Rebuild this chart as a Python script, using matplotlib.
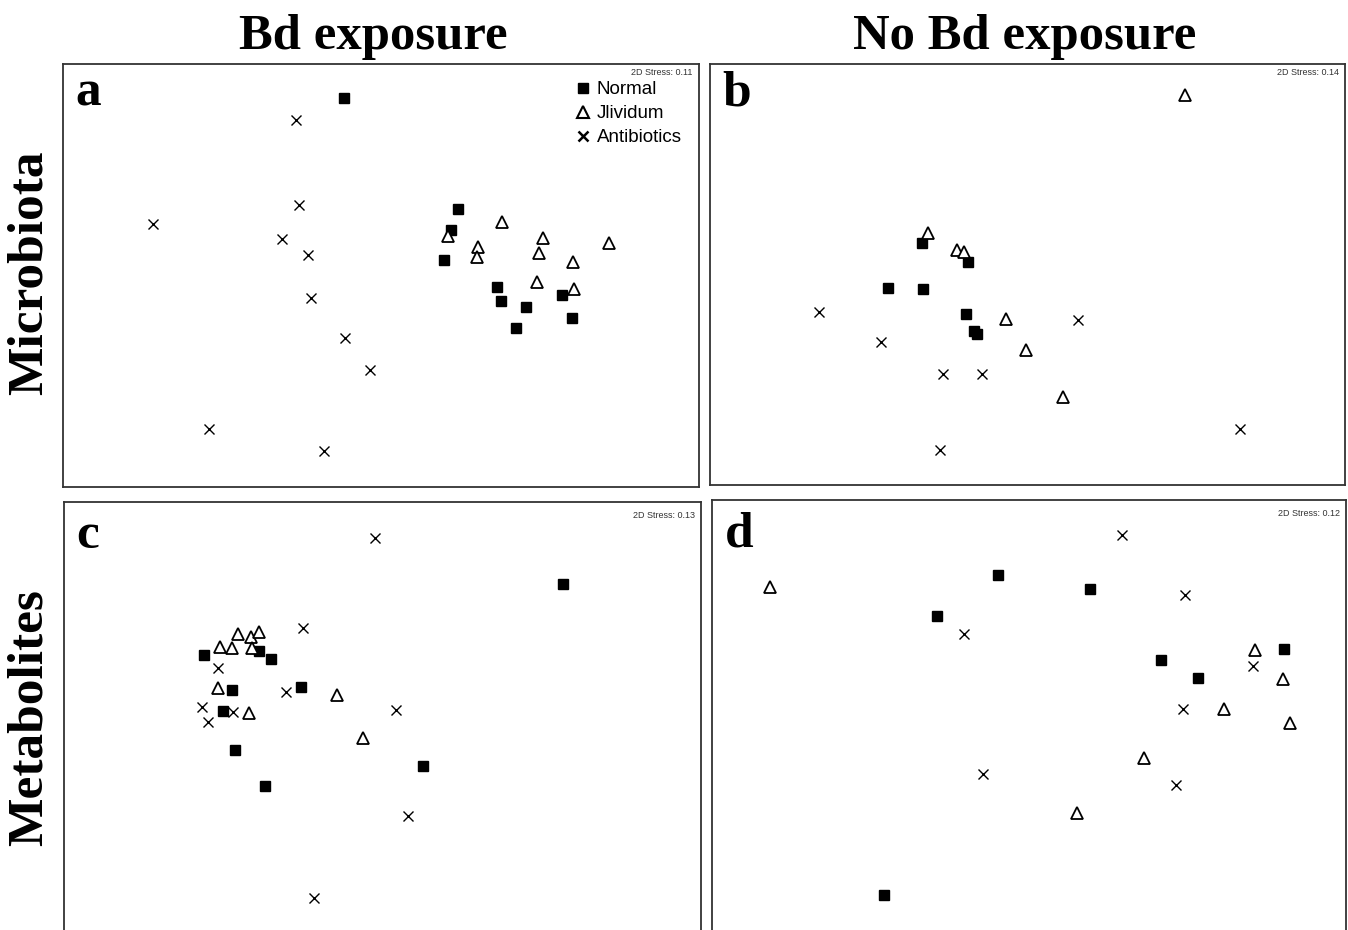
import matplotlib.pyplot as plt
from matplotlib.lines import Line2D

# nMDS coordinates (pixel units of each panel)
a_normal_x = [344, 458, 451, 444, 497, 501, 526, 516, 562, 572]
a_normal_y = [98, 209, 230, 260, 287, 301, 307, 328, 295, 318]
a_jliv_x = [502, 448, 478, 477, 543, 539, 609, 573, 537, 574]
a_jliv_y = [222, 236, 247, 257, 238, 253, 243, 262, 282, 289]
a_anti_x = [296, 153, 299, 282, 308, 311, 345, 370, 209, 324]
a_anti_y = [120, 224, 205, 239, 255, 298, 338, 370, 429, 451]

b_normal_x = [922, 968, 888, 923, 966, 974, 977]
b_normal_y = [243, 262, 288, 289, 314, 331, 334]
b_jliv_x = [1185, 928, 957, 964, 1006, 1026, 1063]
b_jliv_y = [95, 233, 250, 252, 319, 350, 397]
b_anti_x = [819, 881, 943, 982, 1078, 1240, 940]
b_anti_y = [312, 342, 374, 374, 320, 429, 450]

c_normal_x = [563, 204, 259, 271, 232, 301, 223, 235, 265, 423]
c_normal_y = [584, 655, 651, 659, 690, 687, 711, 750, 786, 766]
c_jliv_x = [238, 251, 259, 220, 232, 252, 218, 249, 337, 363]
c_jliv_y = [634, 637, 632, 647, 648, 648, 688, 713, 695, 738]
c_anti_x = [375, 303, 218, 286, 202, 233, 208, 396, 408, 314]
c_anti_y = [538, 628, 668, 692, 707, 712, 722, 710, 816, 898]

d_normal_x = [998, 1090, 937, 1161, 1198, 1284, 884]
d_normal_y = [575, 589, 616, 660, 678, 649, 895]
d_jliv_x = [770, 1255, 1283, 1224, 1290, 1144, 1077]
d_jliv_y = [587, 650, 679, 709, 723, 758, 813]
d_anti_x = [1122, 1185, 964, 1253, 1183, 983, 1176]
d_anti_y = [535, 595, 634, 666, 709, 774, 785]

stress = ["2D Stress: 0.11", "2D Stress: 0.14", "2D Stress: 0.13", "2D Stress: 0.12"]
letters = ["a", "b", "c", "d"]

W, H = 1348, 930
fig = plt.figure(figsize=(W / 100, H / 100), dpi=100)

# panel frames in pixels: left, top, right, bottom
frames = [(63, 64, 699, 487), (710, 64, 1345, 485), (64, 502, 701, 945), (712, 500, 1346, 945)]
data = [
    (a_normal_x, a_normal_y, a_jliv_x, a_jliv_y, a_anti_x, a_anti_y),
    (b_normal_x, b_normal_y, b_jliv_x, b_jliv_y, b_anti_x, b_anti_y),
    (c_normal_x, c_normal_y, c_jliv_x, c_jliv_y, c_anti_x, c_anti_y),
    (d_normal_x, d_normal_y, d_jliv_x, d_jliv_y, d_anti_x, d_anti_y),
]

serif = "Liberation Serif"
axes = []
for i in range(4):
    l, t, r, b = frames[i]
    ax = fig.add_axes([l / W, 1 - b / H, (r - l) / W, (b - t) / H])
    nx, ny, jx, jy, ax_, ay = data[i]
    ax.plot(nx, ny, 's', color='black', ms=7, ls='none')
    ax.plot(jx, jy, '^', mfc='white', mec='black', mew=1.3, ms=8, ls='none')
    ax.plot(ax_, ay, 'x', color='black', ms=6.5, mew=1.0, ls='none')
    ax.set_xlim(l, r)
    ax.set_ylim(b, t)
    ax.set_xticks([])
    ax.set_yticks([])
    for s in ax.spines.values():
        s.set_linewidth(1.3)
        s.set_color('#333333')
    ax.text(0.99, 0.99 if i < 2 else 0.98, stress[i], transform=ax.transAxes, ha='right', va='top',
            fontsize=6.5, family='Liberation Sans', color='#333333')
    ax.text(0.02, 0.985 if i < 2 else 0.975, letters[i], transform=ax.transAxes, ha='left', va='top',
            fontsize=37, fontweight='bold', family=serif)
    axes.append(ax)

handles = [
    Line2D([], [], marker='s', color='black', ls='none', ms=7),
    Line2D([], [], marker='^', mfc='white', mec='black', mew=1.5, ls='none', ms=8.5),
    Line2D([], [], marker='x', color='black', mew=1.8, ls='none', ms=7),
]
axes[0].legend(handles, ["Normal", "Jlividum", "Antibiotics"], loc='upper left',
               bbox_to_anchor=(0.785, 0.99), frameon=False, handlelength=0.8,
               handletextpad=0.35, labelspacing=0.36, borderpad=0.2,
               prop={'family': 'Liberation Sans', 'size': 13.5})

fig.text(373 / W, 1 - 37 / H, "Bd exposure", ha='center', va='center', fontsize=36.5,
         fontweight='bold', family=serif)
fig.text(1025 / W, 1 - 37 / H, "No Bd exposure", ha='center', va='center', fontsize=36.5,
         fontweight='bold', family=serif)
fig.text(30 / W, 1 - 273 / H, "Microbiota", ha='center', va='center', rotation=90,
         fontsize=37, fontweight='bold', family=serif)
fig.text(30 / W, 1 - 718 / H, "Metabolites", ha='center', va='center', rotation=90,
         fontsize=37, fontweight='bold', family=serif)

fig.savefig("out.png", dpi=100)
